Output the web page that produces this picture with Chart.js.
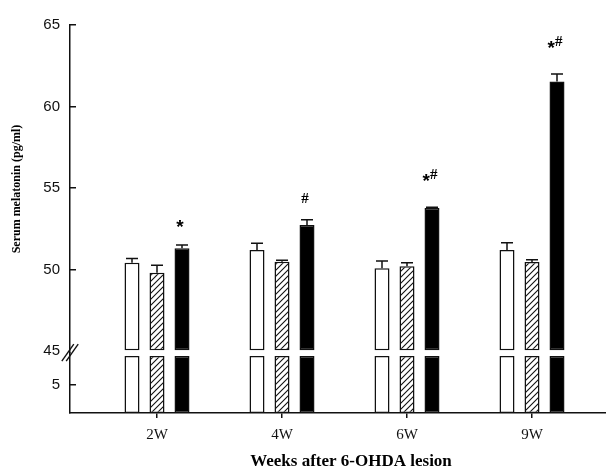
<!DOCTYPE html>
<html>
<head>
<meta charset="utf-8">
<script src="https://cdn.jsdelivr.net/npm/chart.js@4/dist/chart.umd.min.js"></script>
<style>
html,body{margin:0;padding:0;background:#fff;overflow:hidden;width:606px;height:470px}
canvas{display:block}
</style>
</head>
<body>
<canvas id="c" width="640" height="470"></canvas>
<script>
// ---- data ----
const categories = ['2W', '4W', '6W', '9W'];
const seriesNames = ['Group 1', 'Group 2', 'Group 3'];
const whiteValues   = [50.42, 51.20, 50.08, 51.20];
const whiteErrors   = [0.26, 0.42, 0.44, 0.44];
const hatchedValues = [49.80, 50.48, 50.20, 50.46];
const hatchedErrors = [0.46, 0.10, 0.22, 0.14];
const blackValues   = [51.31, 52.73, 53.78, 61.53];
const blackErrors   = [0.20, 0.32, 0.05, 0.46];
const blackMarks    = ['*', '#', '*#', '*#'];
const upperTicks = [45, 50, 55, 60, 65];
const lowerTicks = [5];
const lowerCap = 10;     // value at which bars are cut in the lower segment
const upperBase = 45;    // value where bars restart in the upper segment

const INK = '#111111';
const FILL_BLACK = '#000000';

function makeHatch() {
  const s = 6;
  const c = document.createElement('canvas');
  c.width = s; c.height = s;
  const g = c.getContext('2d');
  g.fillStyle = '#fff';
  g.fillRect(0, 0, s, s);
  g.strokeStyle = INK;
  g.lineWidth = 1.1;
  g.beginPath();
  g.moveTo(0, s); g.lineTo(s, 0);
  g.moveTo(-1, 1); g.lineTo(1, -1);
  g.moveTo(s - 1, s + 1); g.lineTo(s + 1, s - 1);
  g.stroke();
  return c;
}
const hatchCanvas = makeHatch();
const hatch = document.getElementById('c').getContext('2d').createPattern(hatchCanvas, 'repeat');

const toPoints = vals => vals.map((v, i) => ({ x: i + 1, y: v }));
const toLower = vals => vals.map((v, i) => ({ x: i + 1, y: Math.min(v, lowerCap) }));

const fills = ['#ffffff', hatch, FILL_BLACK];
const valueSets = [whiteValues, hatchedValues, blackValues];
const errorSets = [whiteErrors, hatchedErrors, blackErrors];
const stackKeys = ['a', 'b', 'c'];

const barCommon = {
  borderColor: INK,
  borderWidth: 1.5,
  borderSkipped: false,
  categoryPercentage: 0.6,
  barPercentage: 0.6,
  xAxisID: 'x'
};

const datasets = [];
valueSets.forEach((vals, k) => {
  datasets.push(Object.assign({}, barCommon, {
    label: seriesNames[k], data: toPoints(vals), backgroundColor: fills[k],
    yAxisID: 'yUpper', stack: stackKeys[k], base: upperBase
  }));
});
valueSets.forEach((vals, k) => {
  datasets.push(Object.assign({}, barCommon, {
    label: seriesNames[k] + ' (low)', data: toLower(vals), backgroundColor: fills[k],
    yAxisID: 'yLower', stack: stackKeys[k]
  }));
});

const extras = {
  id: 'extras',
  afterDatasetsDraw(chart) {
    const ctx = chart.ctx;
    const yU = chart.scales.yUpper;
    ctx.save();
    // error bars (upper side only)
    ctx.strokeStyle = INK;
    ctx.lineWidth = 1.5;
    valueSets.forEach((vals, k) => {
      const meta = chart.getDatasetMeta(k);
      meta.data.forEach((bar, i) => {
        const x = bar.x;
        const y0 = yU.getPixelForValue(vals[i]);
        const y1 = yU.getPixelForValue(vals[i] + errorSets[k][i]);
        ctx.beginPath();
        ctx.moveTo(x, y0); ctx.lineTo(x, y1);
        ctx.moveTo(x - 6, y1); ctx.lineTo(x + 6, y1);
        ctx.stroke();
      });
    });
    // significance marks above black bars
    const metaB = chart.getDatasetMeta(2);
    ctx.fillStyle = FILL_BLACK;
    ctx.textBaseline = 'middle';
    ctx.textAlign = 'left';
    metaB.data.forEach((bar, i) => {
      const mark = blackMarks[i];
      if (!mark) return;
      const yE = yU.getPixelForValue(blackValues[i] + blackErrors[i]);
      const cy = yE - (mark.length > 1 ? 29 : 21);
      const parts = mark.split('').map(ch => ({
        ch,
        font: ch === '*' ? 'bold 19px "Liberation Sans", Arial, sans-serif' : 'bold 15px "Liberation Serif", serif',
        dy: ch === '*' ? 4 : (mark.length > 1 ? -3 : 0)
      }));
      let total = 0;
      parts.forEach(p => { ctx.font = p.font; p.w = ctx.measureText(p.ch).width; total += p.w; });
      let x = bar.x - 2 - total / 2;
      parts.forEach(p => { ctx.font = p.font; ctx.fillText(p.ch, x, cy + p.dy); x += p.w; });
    });
    ctx.restore();
  },
  afterDraw(chart) {
    const ctx = chart.ctx;
    const yU = chart.scales.yUpper;
    const x = yU.right;
    const yb = yU.bottom;
    ctx.save();
    ctx.strokeStyle = INK;
    ctx.lineWidth = 1.4;
    [-2.2, 2.2].forEach(off => {
      ctx.beginPath();
      ctx.moveTo(x + off - 6, yb + 8);
      ctx.lineTo(x + off + 6, yb - 9);
      ctx.stroke();
    });
    ctx.restore();
  }
};

const yCommon = {
  type: 'linear',
  position: 'left',
  stack: 'ybreak',
  stacked: false,
  bounds: 'data',
  afterFit: s => { s.width = 70; },
  border: { display: true, color: INK, width: 1.5 },
  ticks: {
    padding: 16,
    color: INK,
    font: { family: '"Liberation Sans", Arial, sans-serif', size: 15 }
  }
};

new Chart(document.getElementById('c'), {
  type: 'bar',
  data: { datasets },
  options: {
    responsive: false,
    animation: false,
    devicePixelRatio: 1,
    layout: { padding: { top: 18, right: 8, left: 0, bottom: 0 } },
    plugins: { legend: { display: false }, tooltip: { enabled: false } },
    scales: {
      // left-side stacked axes are laid out in reverse order: lower first
      yLower: Object.assign({}, yCommon, {
        stackWeight: 61,
        min: 0,
        max: 10.52,
        afterBuildTicks: s => { s.ticks = lowerTicks.map(v => ({ value: v })); },
        grid: { drawOnChartArea: false, drawTicks: true, tickLength: -6, lineWidth: 1.5, color: INK }
      }),
      yUpper: Object.assign({}, yCommon, {
        stackWeight: 334,
        min: 44.88,
        max: 65,
        afterBuildTicks: s => { s.ticks = upperTicks.map(v => ({ value: v })); },
        grid: {
          drawOnChartArea: false, drawTicks: true, tickLength: -6, lineWidth: 1.5,
          color: c => (c.tick && c.tick.value === upperBase) ? 'rgba(0,0,0,0)' : INK
        },
        title: {
          display: true,
          text: 'Serum melatonin (pg/ml)',
          color: '#000',
          font: { family: '"Liberation Serif", "Times New Roman", serif', size: 12, weight: 'bold' },
          padding: { top: 10, bottom: 0 }
        }
      }),
      x: {
        type: 'linear',
        position: 'bottom',
        offset: false,
        min: 0.304,
        max: 4.8,
        bounds: 'data',
        afterBuildTicks: s => { s.ticks = categories.map((_, i) => ({ value: i + 1 })); },
        afterFit: s => { s.height = 57; },
        border: { display: true, color: INK, width: 1.5 },
        grid: { offset: false, drawOnChartArea: false, drawTicks: true, tickLength: 5, lineWidth: 1.5, color: INK },
        ticks: {
          padding: 8,
          autoSkip: false,
          maxRotation: 0,
          color: INK,
          font: { family: '"Liberation Serif", "Times New Roman", serif', size: 15 },
          callback: v => categories[Math.round(v) - 1] || ''
        },
        title: {
          display: true,
          text: 'Weeks after 6-OHDA lesion',
          color: '#000',
          font: { family: '"Liberation Serif", "Times New Roman", serif', size: 17, weight: 'bold', lineHeight: 1 },
          padding: { top: 0, bottom: 0 }
        }
      }
    }
  },
  plugins: [extras]
});
</script>
</body>
</html>
